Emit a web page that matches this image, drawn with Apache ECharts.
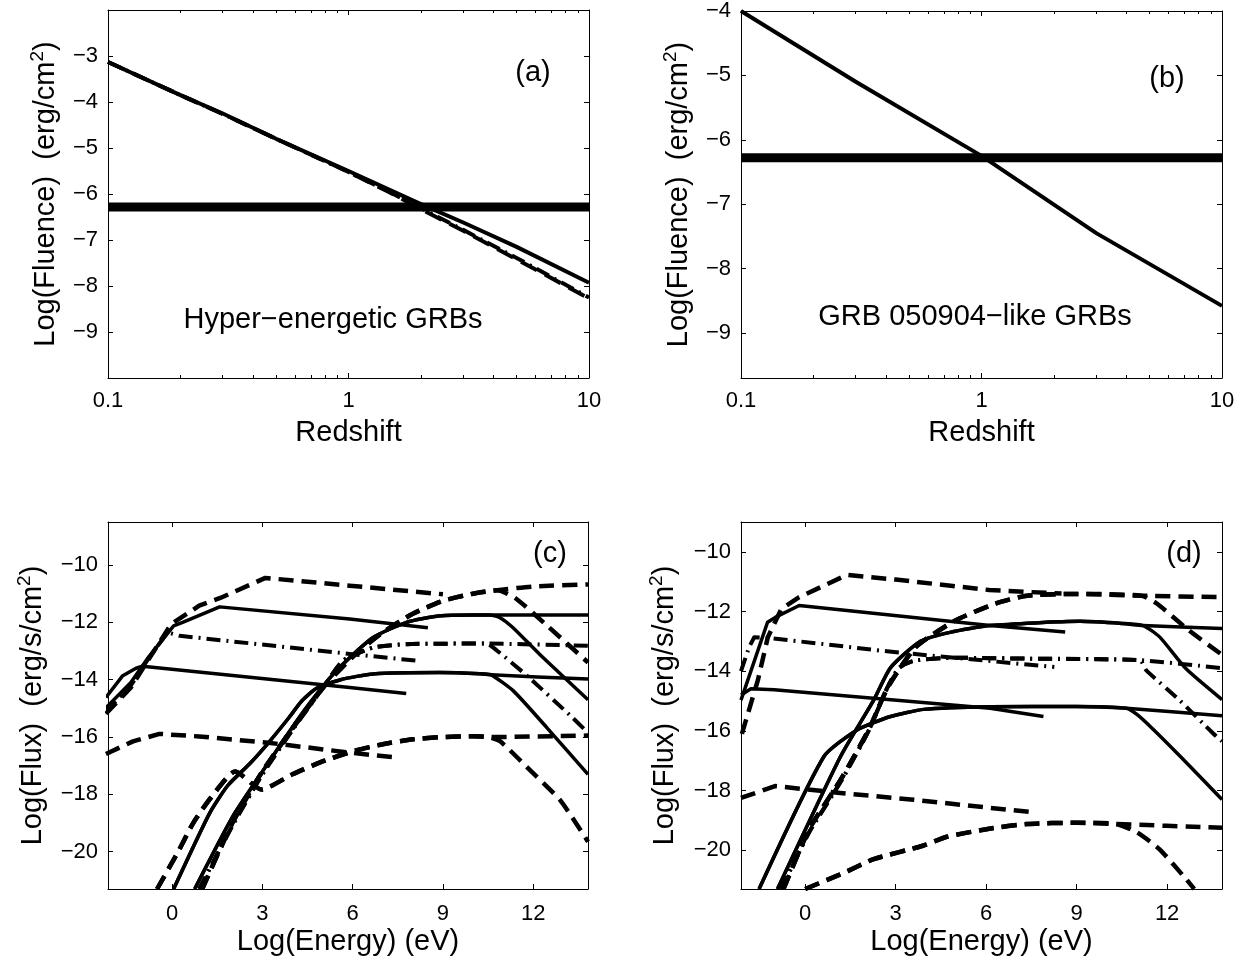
<!DOCTYPE html>
<html>
<head>
<meta charset="utf-8">
<script src="https://cdn.jsdelivr.net/npm/echarts@6/dist/echarts.min.js"></script>
<style>
  html, body { margin: 0; padding: 0; background: #fff; }
  #chart { width: 1252px; height: 966px; }
</style>
</head>
<body>
<div id="chart"></div>
<script>
// ---------- data ----------
// (a) fluence vs redshift, hyper-energetic GRBs  [z, log fluence]
const aSolid    = [[0.1,-3.13],[0.2,-3.85],[0.3,-4.25],[0.5,-4.8],[1,-5.5],[2,-6.22],[3,-6.62],[5,-7.15],[10,-7.93]];
const aDash     = [[0.1,-3.13],[0.2,-3.85],[0.3,-4.26],[0.5,-4.8],[1,-5.52],[1.5,-5.98],[2,-6.33],[3,-6.8],[5,-7.42],[10,-8.27]];
const aDashDot  = [[0.1,-3.13],[0.2,-3.85],[0.3,-4.26],[0.5,-4.8],[1,-5.52],[1.5,-5.97],[2,-6.31],[3,-6.78],[5,-7.39],[10,-8.25]];
const aLimit    = [[0.1,-6.28],[10,-6.28]];
// (b) GRB 050904-like
const bSolid    = [[0.1,-4.0],[0.3,-5.1],[1,-6.25],[3,-7.45],[10,-8.58]];
const bLimit    = [[0.1,-6.28],[10,-6.28]];

// (c) spectra [log E, log flux] - synchrotron humps
const cSynTopDash  = [[-2.2,-15.19],[-1.37,-14.27],[-0.81,-13.34],[-0.03,-12.06],[0.9,-11.42],[1.6,-11.15],[3.1,-10.45],[5.9,-10.72],[9.0,-11.02]];
const cSynUpSolid  = [[-2.2,-14.98],[-1.37,-14.1],[-0.81,-13.25],[0.05,-12.12],[0.35,-12.0],[1.58,-11.46],[5.9,-11.88],[8.5,-12.19]];
const cSynDashDot  = [[-2.2,-15.1],[-1.37,-14.2],[-0.81,-13.3],[-0.15,-12.35],[0.25,-12.47],[5.9,-13.1],[8.25,-13.35]];
const cSynLowSolid = [[-2.2,-14.62],[-1.64,-13.86],[-1.2,-13.6],[-0.98,-13.53],[5.9,-14.27],[7.78,-14.48]];
const cSynLowDash  = [[-2.2,-16.59],[-1.3,-16.15],[-0.42,-15.89],[0.9,-15.98],[3.2,-16.2],[5.96,-16.55],[7.5,-16.72]];
// (c) inverse-Compton humps: rising part, intrinsic tail, cut-off tail
const cIcTopDash   = [[1.0,-21.3],[2.0,-19.0],[3.0,-17.2],[4.0,-15.7],[5.0,-14.3],[6.0,-13.2],[7.0,-12.35],[8.0,-11.7],[9.0,-11.25],[10.0,-11.0],[10.8,-10.88]];
const cIcTopDashFlat = [[12.0,-10.75],[13.82,-10.68]];
const cIcTopDashCut  = [[11.4,-11.15],[12.5,-12.15],[13.82,-13.4]];
const cIcUpSolid   = [[0.75,-21.3],[2.0,-18.8],[3.1,-17.05],[4.2,-15.35],[5.0,-14.25],[5.57,-13.57],[6.68,-12.53],[7.79,-12.0],[8.9,-11.77],[10.0,-11.74],[10.55,-11.74]];
const cIcUpSolidFlat = [[12.0,-11.74],[13.82,-11.74]];
const cIcUpSolidCut  = [[10.88,-11.83],[11.32,-12.18],[12.21,-13.11],[13.82,-14.7]];
const cIcDashDot   = [[0.9,-21.3],[2.0,-19.1],[3.0,-17.3],[4.0,-15.75],[5.0,-14.3],[5.68,-13.34],[6.68,-12.88],[7.79,-12.76],[10.45,-12.74]];
const cIcDashDotFlat = [[13.82,-12.82]];
const cIcDashDotCut  = [[10.79,-12.98],[11.79,-13.86],[13.23,-15.25],[13.82,-15.85]];
const cIcLowSolid  = [[0.05,-21.3],[1.24,-18.67],[1.85,-17.69],[2.57,-16.94],[3.2,-16.2],[3.9,-15.3],[4.3,-14.75],[4.8,-14.3],[5.6,-14.0],[6.68,-13.8],[8.9,-13.75],[10.23,-13.79],[10.6,-13.83]];
const cIcLowSolidFlat = [[13.82,-13.98]];
const cIcLowSolidCut  = [[11.34,-14.39],[12.45,-15.67],[13.82,-17.3]];
const cIcLowDash   = [[-0.5,-21.3],[0.2,-20.0],[0.7,-19.0],[1.3,-18.1],[2.1,-17.2],[2.97,-17.83],[4.0,-17.3],[5.0,-16.85],[6.0,-16.5],[7.0,-16.25],[8.0,-16.08],[9.0,-16.0],[10.0,-15.97],[10.5,-16.0]];
const cIcLowDashFlat = [[13.82,-15.95]];
const cIcLowDashCut  = [[10.9,-16.15],[11.79,-17.05],[12.9,-18.21],[13.82,-19.65]];

// (d) spectra - synchrotron humps
const dSynTopDash  = [[-2.1,-16.1],[-1.57,-14.3],[-1.24,-12.86],[-0.79,-11.91],[-0.2,-11.52],[1.39,-10.77],[3.0,-10.93],[6.1,-11.28],[8.5,-11.4]];
const dSynUpSolid  = [[-2.13,-14.97],[-1.25,-12.36],[-0.98,-12.19],[-0.2,-11.8],[6.13,-12.47],[8.62,-12.69]];
const dSynDashDot  = [[-2.13,-14.0],[-1.86,-13.19],[-1.69,-12.86],[-1.08,-12.9],[2.94,-13.36],[8.26,-13.86]];
const dSynLowSolid = [[-2.13,-14.8],[-1.8,-14.59],[-1.03,-14.62],[6.13,-15.24],[7.9,-15.52]];
const dSynLowDash  = [[-2.13,-18.25],[-1.0,-17.85],[1.17,-18.08],[3.5,-18.3],[6.13,-18.58],[7.5,-18.72]];
// (d) inverse-Compton humps
const dIcTopDash   = [[-0.72,-21.3],[0.13,-19.3],[1.18,-17.63],[2.1,-15.97],[2.75,-14.52],[3.67,-13.19],[4.98,-12.3],[6.29,-11.74],[7.35,-11.47],[9.05,-11.41],[11.15,-11.47]];
const dIcTopDashFlat = [[13.82,-11.52]];
const dIcTopDashCut  = [[11.67,-11.74],[12.72,-12.63],[13.82,-13.45]];
const dIcUpSolid   = [[-0.92,-21.3],[1.17,-16.86],[2.27,-14.97],[2.83,-13.88],[3.82,-13.0],[4.8,-12.7],[6.13,-12.47],[9.11,-12.33],[10.5,-12.4],[11.2,-12.47]];
const dIcUpSolidFlat = [[13.82,-12.57]];
const dIcUpSolidCut  = [[11.75,-12.85],[12.63,-13.92],[13.82,-14.95]];
const dIcDashDot   = [[-0.8,-21.3],[0.13,-19.4],[1.18,-17.7],[2.1,-16.0],[2.7,-14.6],[3.1,-13.9],[3.6,-13.65],[5.0,-13.55],[7.35,-13.58],[11.09,-13.63]];
const dIcDashDotFlat = [[13.82,-13.9]];
const dIcDashDotCut  = [[11.31,-13.97],[12.41,-14.97],[13.52,-16.08],[13.82,-16.35]];
const dIcLowSolid  = [[-1.53,-21.3],[0.62,-16.86],[1.72,-15.97],[2.83,-15.52],[3.93,-15.28],[6.13,-15.19],[9.0,-15.18],[10.65,-15.24]];
const dIcLowSolidFlat = [[13.82,-15.49]];
const dIcLowSolidCut  = [[11.0,-15.45],[11.56,-15.97],[12.44,-16.86],[13.82,-18.3]];
const dIcLowDash   = [[0.0,-21.3],[1.3,-20.75],[2.27,-20.3],[3.9,-19.85],[4.7,-19.55],[6.1,-19.28],[7.35,-19.12],[9.0,-19.08],[10.3,-19.12]];
const dIcLowDashFlat = [[13.82,-19.25]];
const dIcLowDashCut  = [[11.0,-19.4],[11.75,-19.97],[12.63,-20.97],[12.9,-21.3]];

// tick values
const fluenceTicksA = [-9,-8,-7,-6,-5,-4,-3];
const fluenceTicksB = [-9,-8,-7,-6,-5,-4];
const fluxTicks = [-20,-18,-16,-14,-12,-10];
const energyTicks = [0,3,6,9,12];
const minorRedshift = [0.2,0.3,0.4,0.5,0.6,0.7,0.8,0.9,2,3,4,5,6,7,8,9];

// ---------- chart ----------
const FONT = 'Liberation Sans';
const minus = v => (v < 0 ? '\u2212' + Math.abs(v) : String(v));
const black = '#000';

const grids = [
  {left: 108, top: 10, width: 481, height: 368},
  {left: 741, top: 10, width: 481, height: 368},
  {left: 108, top: 522, width: 480, height: 367},
  {left: 741, top: 522, width: 481, height: 367}
];

const tickLabel = {color: black, fontFamily: FONT, fontSize: 22};
const axisLine = {show: true, onZero: false, lineStyle: {color: black, width: 1}};

function nameStyle(lh) {
  return {color: black, fontFamily: FONT, fontSize: 29, lineHeight: lh,
    rich: {sup: {fontSize: 19, fontFamily: FONT, color: black, lineHeight: 14, verticalAlign: 'top'}}};
}

const xAxis = [];
const yAxis = [];

// log redshift axes for (a) and (b)
function redshiftAxes(g) {
  const main = xAxis.length;
  ['bottom', 'top'].forEach(pos => {
    xAxis.push({
      gridIndex: g, type: 'log', logBase: 10, min: 0.1, max: 10, interval: 1, position: pos,
      axisLine: axisLine, splitLine: {show: false},
      axisTick: {inside: true, length: 5, lineStyle: {color: black}},
      axisLabel: pos === 'bottom' ? Object.assign({margin: 12}, tickLabel) : {show: false},
      name: pos === 'bottom' ? 'Redshift' : '', nameLocation: 'middle', nameGap: 40,
      nameTextStyle: nameStyle(30)
    });
  });
  // minor log ticks (2..9 per decade) on a helper axis in log10 space
  ['bottom', 'top'].forEach(pos => {
    xAxis.push({
      gridIndex: g, type: 'value', min: -1, max: 1, position: pos,
      axisLine: {show: false, onZero: false}, splitLine: {show: false},
      axisLabel: {show: false},
      axisTick: {inside: true, length: 3, lineStyle: {color: black},
        customValues: minorRedshift.map(v => Math.log10(v))}
    });
  });
  return main;
}

function energyAxes(g) {
  const main = xAxis.length;
  ['bottom', 'top'].forEach(pos => {
    xAxis.push({
      gridIndex: g, type: 'value', min: -2.13, max: 13.82, position: pos,
      axisLine: axisLine, splitLine: {show: false},
      axisTick: {inside: true, length: 5, lineStyle: {color: black}, customValues: energyTicks},
      axisLabel: pos === 'bottom' ? Object.assign({margin: 14, customValues: energyTicks, formatter: minus}, tickLabel) : {show: false},
      name: pos === 'bottom' ? 'Log(Energy) (eV)' : '', nameLocation: 'middle', nameGap: 38,
      nameTextStyle: nameStyle(30)
    });
  });
  return main;
}

function yAxes(g, min, max, ticks, name, gap) {
  const main = yAxis.length;
  ['left', 'right'].forEach(pos => {
    yAxis.push({
      gridIndex: g, type: 'value', min: min, max: max, position: pos,
      axisLine: axisLine, splitLine: {show: false},
      axisTick: {inside: true, length: 5, lineStyle: {color: black}, customValues: ticks},
      axisLabel: pos === 'left' ? Object.assign({margin: 10, customValues: ticks, formatter: minus}, tickLabel) : {show: false},
      name: pos === 'left' ? name : '', nameLocation: 'middle', nameGap: gap,
      nameTextStyle: nameStyle(36)
    });
  });
  return main;
}

const xa = redshiftAxes(0), xb = redshiftAxes(1), xc = energyAxes(2), xd = energyAxes(3);
const ya = yAxes(0, -10, -2, fluenceTicksA, 'Log(Fluence)  (erg/cm{sup|2})', 44);
const yb = yAxes(1, -9.7, -4, fluenceTicksB, 'Log(Fluence)  (erg/cm{sup|2})', 44);
const yc = yAxes(2, -21.3, -8.5, fluxTicks, 'Log(Flux)  (erg/s/cm{sup|2})', 57);
const yd = yAxes(3, -21.3, -9, fluxTicks, 'Log(Flux)  (erg/s/cm{sup|2})', 58);

const STYLE = {
  solid:   {width: 3.5, type: 'solid'},
  solidA:  {width: 4, type: 'solid'},
  dash:    {width: 4.5, type: [15, 8]},
  dashA:   {width: 4, type: [18, 9]},
  dashdot: {width: 4, type: [14, 6, 2, 6]},
  limit:   {width: 9, type: 'solid'}
};

function curve(data, kind, xi, yi, smooth) {
  return {
    type: 'line', data: data, xAxisIndex: xi, yAxisIndex: yi,
    symbol: 'none', silent: true, animation: false, smooth: smooth || false,
    lineStyle: {color: black, width: STYLE[kind].width, type: STYLE[kind].type, cap: 'butt', join: 'round'}
  };
}

const series = [
  curve(aLimit, 'limit', xa, ya),
  curve(aDash, 'dashA', xa, ya),
  curve(aDashDot, 'dashdot', xa, ya),
  curve(aSolid, 'solidA', xa, ya),
  curve(bLimit, 'limit', xb, yb),
  curve(bSolid, 'solidA', xb, yb)
];

function spectra(xi, yi, syn, ic) {
  syn.forEach(s => series.push(curve(s[0], s[1], xi, yi)));
  ic.forEach(s => {
    series.push(curve(s[0].concat(s[1]), s[3], xi, yi, 0.2));
    series.push(curve(s[0].concat(s[2]), s[3], xi, yi, 0.2));
  });
}

spectra(xc, yc,
  [[cSynTopDash, 'dash'], [cSynUpSolid, 'solid'], [cSynDashDot, 'dashdot'], [cSynLowSolid, 'solid'], [cSynLowDash, 'dash']],
  [[cIcTopDash, cIcTopDashFlat, cIcTopDashCut, 'dash'],
   [cIcUpSolid, cIcUpSolidFlat, cIcUpSolidCut, 'solid'],
   [cIcDashDot, cIcDashDotFlat, cIcDashDotCut, 'dashdot'],
   [cIcLowSolid, cIcLowSolidFlat, cIcLowSolidCut, 'solid'],
   [cIcLowDash, cIcLowDashFlat, cIcLowDashCut, 'dash']]);

spectra(xd, yd,
  [[dSynTopDash, 'dash'], [dSynUpSolid, 'solid'], [dSynDashDot, 'dashdot'], [dSynLowSolid, 'solid'], [dSynLowDash, 'dash']],
  [[dIcTopDash, dIcTopDashFlat, dIcTopDashCut, 'dash'],
   [dIcUpSolid, dIcUpSolidFlat, dIcUpSolidCut, 'solid'],
   [dIcDashDot, dIcDashDotFlat, dIcDashDotCut, 'dashdot'],
   [dIcLowSolid, dIcLowSolidFlat, dIcLowSolidCut, 'solid'],
   [dIcLowDash, dIcLowDashFlat, dIcLowDashCut, 'dash']]);

function label(text, x, y) {
  return {type: 'text', x: x, y: y, silent: true, z: 100,
    style: {text: text, fill: black, font: '29px "Liberation Sans"',
      textAlign: 'center', textVerticalAlign: 'middle', align: 'center', verticalAlign: 'middle'}};
}

const chart = echarts.init(document.getElementById('chart'), null, {renderer: 'canvas'});
chart.setOption({
  backgroundColor: '#fff',
  animation: false,
  textStyle: {fontFamily: FONT},
  grid: grids,
  xAxis: xAxis,
  yAxis: yAxis,
  series: series,
  graphic: [
    label('(a)', 533, 73),
    label('(b)', 1167, 79),
    label('(c)', 550, 554),
    label('(d)', 1184, 554),
    label('Hyper\u2212energetic GRBs', 333, 320),
    label('GRB 050904\u2212like GRBs', 975, 317)
  ]
});
</script>
</body>
</html>
